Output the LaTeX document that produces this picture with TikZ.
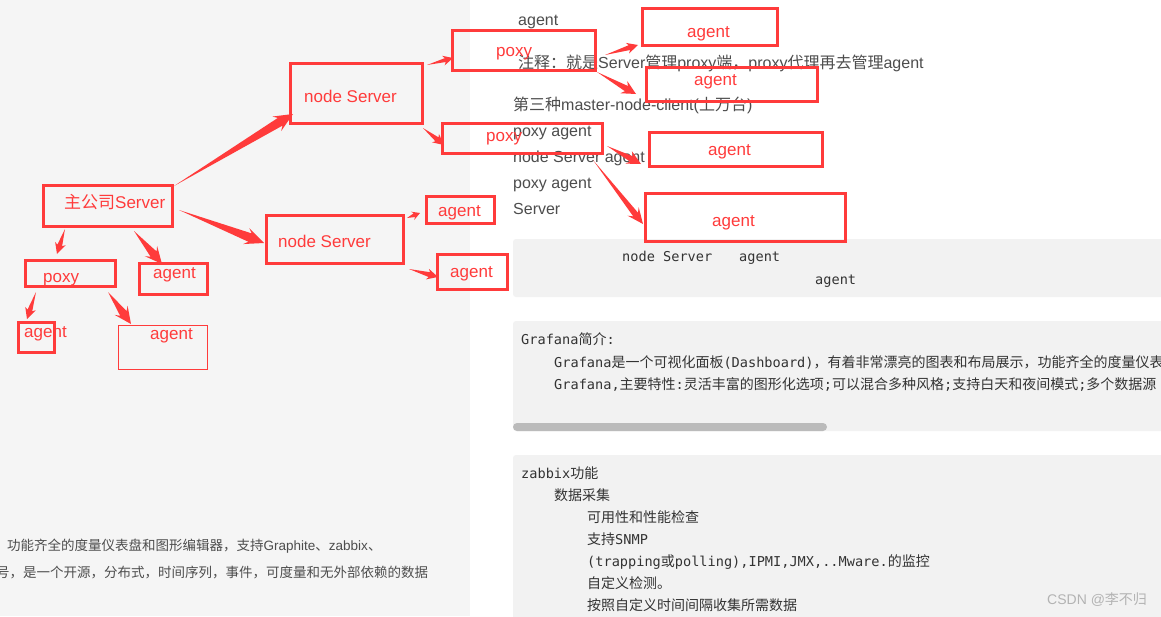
\documentclass[tikz,border=0pt]{standalone}
\usepackage{fontspec}
\setmainfont{Liberation Sans}
\setmonofont{DejaVu Sans Mono}
\newfontfamily\cjk{Noto Sans CJK SC}
\usetikzlibrary{calc,fit}
\definecolor{myred}{HTML}{FF3B3B}
\definecolor{leftbg}{HTML}{F5F5F5}
\definecolor{codebg}{HTML}{F2F2F2}
\definecolor{txtgray}{HTML}{4D4D4D}
\definecolor{codetxt}{HTML}{333333}
\definecolor{scrollc}{HTML}{BBBBBB}
\definecolor{wmark}{HTML}{B3B3B3}
\newcommand\zh[1]{{\cjk #1}}
\newcommand\zhc[1]{{\cjk\fontsize{14}{14}\selectfont #1}}
% tail, head, head length, head half width, shaft half width, notch distance
\newcommand\tarr[6]{%
  \coordinate (tmph) at ($(#2)!#3!(#1)$);
  \coordinate (tmpn) at ($(#2)!#6!(#1)$);
  \fill[myred] (#1) -- ($(tmpn)!#5!90:(#2)$) -- ($(tmph)!#4!90:(#2)$) -- (#2)
    -- ($(tmph)!#4!-90:(#2)$) -- ($(tmpn)!#5!-90:(#2)$) -- cycle;
}
\tikzset{
  redbox/.style={draw=myred, line width=3pt, inner sep=0pt},
  thinbox/.style={draw=myred, line width=1pt, inner sep=0pt},
  redlbl/.style={text=myred, font=\fontsize{17}{17}\selectfont, anchor=base west, inner sep=0pt},
  graylbl/.style={text=txtgray, font=\fontsize{16}{16}\selectfont, anchor=base west, inner sep=0pt},
  smalllbl/.style={text=txtgray, font=\fontsize{13.5}{14}\selectfont, anchor=base west, inner sep=0pt},
  codelbl/.style={text=codetxt, font=\fontsize{13.6}{14}\selectfont\ttfamily, anchor=base west, inner sep=0pt},
  wmlbl/.style={text=wmark, font=\fontsize{14}{14}\selectfont, anchor=base west, inner sep=0pt},
}
\begin{document}
\begin{tikzpicture}[x=1pt,y=-1pt]
\useasboundingbox (0,0) rectangle (1161,616);
\clip (0,0) rectangle (1161,616);
% backgrounds
\fill[white] (0,0) rectangle (1161,616);
\fill[leftbg] (0,0) rectangle (470,616);
\fill[codebg, rounded corners=3pt] (513,239) rectangle (1170,297);
\fill[codebg, rounded corners=3pt] (513,321) rectangle (1170,431);
\fill[scrollc, rounded corners=4pt] (513,423) rectangle (827,431);
\fill[codebg, rounded corners=3pt] (513,455) rectangle (1170,630);

% gray page text
\node[graylbl] (t1) at (518,25) {agent};
\node[graylbl] (t2) at (518,68) {\zh{注释：就是}Server\zh{管理}proxy\zh{端，}proxy\zh{代理再去管理}agent};
\node[graylbl] (t3) at (513,110) {\zh{第三种}master-node-client(\zh{上万台})};
\node[graylbl] (t4) at (513,136) {poxy agent};
\node[graylbl] (t5) at (513,162) {node Server agent};
\node[graylbl] (t6) at (513,188) {poxy agent};
\node[graylbl] (t7) at (513,214) {Server};

\node[smalllbl] (b1) at (7,550) {\zh{功能齐全的度量仪表盘和图形编辑器，支持}Graphite\zh{、}zabbix\zh{、}};
\node[smalllbl] (b2) at (-4,577) {\zh{号，是一个开源，分布式，时间序列，事件，可度量和无外部依赖的数据}};

% code block 1
\node[codelbl] (c1) at (622,261) {node Server};
\node[codelbl] (c2) at (739,261) {agent};
\node[codelbl] (c3) at (815,284) {agent};
% code block 2
\node[codelbl] (g1) at (521,344) {Grafana\zhc{简介}:};
\node[codelbl] (g2) at (554,367) {Grafana\zhc{是一个可视化面板}(Dashboard)\zhc{，有着非常漂亮的图表和布局展示，功能齐全的度量仪表}};
\node[codelbl] (g3) at (554,389) {Grafana,\zhc{主要特性}:\zhc{灵活丰富的图形化选项};\zhc{可以混合多种风格};\zhc{支持白天和夜间模式};\zhc{多个数据源}};
% code block 3
\node[codelbl] (z1) at (521,478) {zabbix\zhc{功能}};
\node[codelbl] (z2) at (554,500) {\zhc{数据采集}};
\node[codelbl] (z3) at (587,522) {\zhc{可用性和性能检查}};
\node[codelbl] (z4) at (587,544) {\zhc{支持}SNMP};
\node[codelbl] (z5) at (587,566) {(trapping\zhc{或}polling),IPMI,JMX,..Mware.\zhc{的监控}};
\node[codelbl] (z6) at (587,588) {\zhc{自定义检测。}};
\node[codelbl] (z7) at (587,610) {\zhc{按照自定义时间间隔收集所需数据}};

\node[wmlbl] (wm) at (1047,604) {CSDN @\zh{李不归}};

% red boxes
\node[redbox, fit={(43,185) (172,226)}] (srv) {};
\node[redbox, fit={(290,63) (422,123)}] (ns1) {};
\node[redbox, fit={(266,215) (403,263)}] (ns2) {};
\node[redbox, fit={(25,260) (115,286)}] (px1) {};
\node[redbox, fit={(139,263) (207,294)}] (ag1) {};
\node[redbox, fit={(18,322) (54,352)}] (ag2) {};
\node[thinbox, fit={(118.5,325.5) (207,369)}] (ag3) {};
\node[redbox, fit={(452,30) (595,70)}] (px2) {};
\node[redbox, fit={(642,8) (777,45)}] (ag4) {};
\node[redbox, fit={(646,67) (817,101)}] (ag5) {};
\node[redbox, fit={(442,123) (602,153)}] (px3) {};
\node[redbox, fit={(649,132) (822,166)}] (ag6) {};
\node[redbox, fit={(645,193) (845,241)}] (ag7) {};
\node[redbox, fit={(426,196) (494,223)}] (ag8) {};
\node[redbox, fit={(437,254) (507,289)}] (ag9) {};

% red labels
\node[redlbl] (l1) at (64,208) {\zh{主公司}Server};
\node[redlbl] (l2) at (304,102) {node Server};
\node[redlbl] (l3) at (278,247) {node Server};
\node[redlbl] (l4) at (43,282) {poxy};
\node[redlbl] (l5) at (153,278) {agent};
\node[redlbl] (l6) at (24,337) {agent};
\node[redlbl] (l7) at (150,339) {agent};
\node[redlbl] (l8) at (496,56) {poxy};
\node[redlbl] (l9) at (687,37) {agent};
\node[redlbl] (l10) at (694,85) {agent};
\node[redlbl] (l11) at (486,141) {poxy};
\node[redlbl] (l12) at (708,155) {agent};
\node[redlbl] (l13) at (712,226) {agent};
\node[redlbl] (l14) at (438,216) {agent};
\node[redlbl] (l15) at (450,277) {agent};

% arrow end points
\coordinate (a1t) at (174,186);  \coordinate (a1h) at (293,114);
\coordinate (a2t) at (179,210);  \coordinate (a2h) at (264,243);
\coordinate (a3t) at (65,229);   \coordinate (a3h) at (57,254);
\coordinate (a4t) at (134,231);  \coordinate (a4h) at (162,264);
\coordinate (a5t) at (36,292);   \coordinate (a5h) at (27,319);
\coordinate (a6t) at (108,292);  \coordinate (a6h) at (131,324);
\coordinate (a7t) at (427,65);   \coordinate (a7h) at (453,58);
\coordinate (a8t) at (423,128);  \coordinate (a8h) at (444,145);
\coordinate (a9t) at (407,218);  \coordinate (a9h) at (420,213);
\coordinate (a10t) at (409,269); \coordinate (a10h) at (438,277);
\coordinate (a11t) at (605,55);  \coordinate (a11h) at (638,45);
\coordinate (a12t) at (597,72);  \coordinate (a12h) at (636,94);
\coordinate (a13t) at (607,146); \coordinate (a13h) at (641,164);
\coordinate (a14t) at (593,160); \coordinate (a14h) at (643,224);

% arrows
\tarr{a1t}{a1h}{19pt}{8.5pt}{4.5pt}{15pt}
\tarr{a2t}{a2h}{19pt}{8.5pt}{4.5pt}{15pt}
\tarr{a3t}{a3h}{11pt}{5.5pt}{2.5pt}{9pt}
\tarr{a4t}{a4h}{17pt}{8pt}{4pt}{13pt}
\tarr{a5t}{a5h}{11pt}{5.5pt}{2.5pt}{9pt}
\tarr{a6t}{a6h}{17pt}{8pt}{4pt}{13pt}
\tarr{a7t}{a7h}{10pt}{5pt}{2pt}{8pt}
\tarr{a8t}{a8h}{11pt}{5.5pt}{2.5pt}{9pt}
\tarr{a9t}{a9h}{8pt}{4.5pt}{2pt}{6pt}
\tarr{a10t}{a10h}{11pt}{5.5pt}{2.5pt}{9pt}
\tarr{a11t}{a11h}{11pt}{5.5pt}{2.5pt}{9pt}
\tarr{a12t}{a12h}{14pt}{7pt}{3pt}{11pt}
\tarr{a13t}{a13h}{14pt}{7pt}{3pt}{11pt}
\tarr{a14t}{a14h}{16pt}{7pt}{3pt}{12pt}
\end{tikzpicture}
\end{document}
